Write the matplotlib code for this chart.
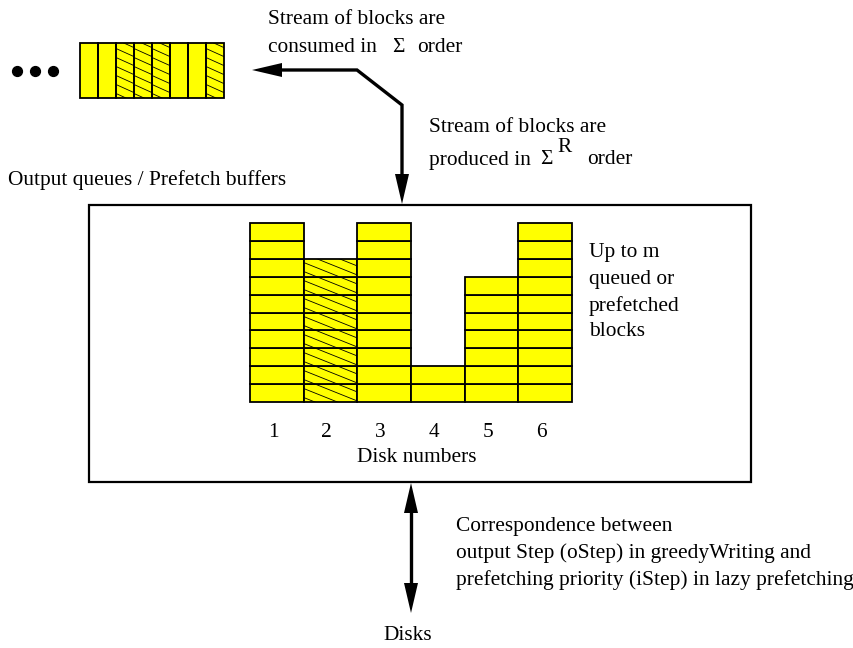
import numpy as np
from matplotlib import pyplot as plt

plt.rcParams['font.family'] = ['Liberation Serif', 'DejaVu Serif']

# data
disk_labels = ["1", "2", "3", "4", "5", "6"]
queue_heights = [10, 8, 10, 2, 7, 10]
hatched_disks = [1]                     # index of disk 2
stream_hatched = [0, 0, 1, 1, 1, 0, 0, 1]
n_dots = 3

W, H = 854, 648
YELLOW = "#ffff00"
FS = 15.4


def frac(x0, y0, x1, y1):
    return [x0 / W, 1 - y1 / H, (x1 - x0) / W, (y1 - y0) / H]


def head(ax, tip, direction, length=30, half=7):
    tx, ty = tip
    dx, dy = direction
    bx, by = tx - dx * length, ty - dy * length
    px, py = -dy * half, dx * half
    ax.fill([tx, bx + px, bx - px], [ty, by + py, by - py], color="black", lw=0)


def hatch(ax, x0, y0, w, h, slope, step):
    # shallow "\" lines clipped to the rectangle, slope and step in data units
    clip = plt.Rectangle((x0, y0), w, h, transform=ax.transData, fill=False, lw=0)
    ax.add_patch(clip)
    for c in np.arange(y0 + step / 2, y0 + h + slope * w, step):
        ln, = ax.plot([x0, x0 + w], [c, c - slope * w], color="black", lw=0.6)
        ln.set_clip_path(clip)


fig = plt.figure(figsize=(W / 100, H / 100), dpi=100)

# overlay in pixel units
ax = fig.add_axes([0, 0, 1, 1])
ax.set_xlim(0, W)
ax.set_ylim(H, 0)
ax.axis("off")

# big box
ax.add_patch(plt.Rectangle((89, 205), 662, 277, fill=False, lw=1.6, ec="black"))

# queued blocks per disk
ax_b = fig.add_axes(frac(250, 223, 572, 402))
ax_b.set_xlim(-0.5, 5.5)
ax_b.set_ylim(0, 10)
ax_b.axis("off")
for i, h in enumerate(queue_heights):
    ax_b.bar(np.full(h, i), 1, bottom=np.arange(h), width=1,
             color=YELLOW, edgecolor="black", lw=1.3, clip_on=False, zorder=1)
    if i in hatched_disks:
        # 0.4 px/px slope, 9 px spacing
        hatch(ax_b, i - 0.5, 0, 1, h, 0.4 * 53.7 / 17.9, 9 / 17.9)
    ax_b.text(i - 0.07, -1.7, disk_labels[i], ha="center", va="center", fontsize=FS)
ax_b.text(2.6, -3.1, "Disk numbers", ha="center", va="center", fontsize=FS)

# stream of blocks
ax_s = fig.add_axes(frac(80, 43, 224, 98))
ax_s.set_xlim(-0.5, len(stream_hatched) - 0.5)
ax_s.set_ylim(0, 1)
ax_s.axis("off")
for i, hh in enumerate(stream_hatched):
    if hh:
        hatch(ax_s, i - 0.5, 0, 1, 1, 0.45 * 18 / 55, 9 / 55)
    ax_s.bar(i, 1, width=1, facecolor="none", edgecolor="black", lw=1.3,
             clip_on=False, zorder=3)
    ax_s.bar(i, 1, width=1, color=YELLOW, lw=0, zorder=0)
ax_s.scatter(-2.0 - np.arange(n_dots), np.full(n_dots, 0.5), s=50, color="black", clip_on=False)

# arrow from box up to the stream
ax.plot([402, 402, 357, 280], [175, 105, 70, 70], color="black", lw=2.4,
        solid_joinstyle="miter")
head(ax, (252, 70), (-1, 0))
head(ax, (402, 204), (0, 1))

# double arrow to disks
ax.plot([411, 411], [510, 586], color="black", lw=2.4)
head(ax, (411, 483), (0, -1))
head(ax, (411, 613), (0, 1))

ax.text(268, 20, "Stream of blocks are", va="center", fontsize=FS)
ax.text(268, 47, "consumed in", va="center", fontsize=FS)
ax.text(392, 47, "Σ", va="center", fontsize=FS)
ax.text(417, 47, "order", va="center", fontsize=FS)

ax.text(429, 127, "Stream of blocks are", va="center", fontsize=FS)
ax.text(429, 160, "produced in", va="center", fontsize=FS)
ax.text(540, 160, "Σ", va="center", fontsize=FS)
ax.text(557, 148, "R", va="center", fontsize=FS)
ax.text(587, 160, "order", va="center", fontsize=FS)

ax.text(8, 180, "Output queues / Prefetch buffers", va="center", fontsize=FS)

for k, line in enumerate(["Up to m", "queued or", "prefetched", "blocks"]):
    ax.text(589, 253 + 26.3 * k, line, va="center", fontsize=FS)

for k, line in enumerate(["Correspondence between",
                          "output Step (oStep) in greedyWriting and",
                          "prefetching priority (iStep) in lazy prefetching"]):
    ax.text(456, 527 + 26.5 * k, line, va="center", fontsize=FS)

ax.text(408, 636, "Disks", ha="center", va="center", fontsize=FS)

fig.savefig("out.png", dpi=100)
